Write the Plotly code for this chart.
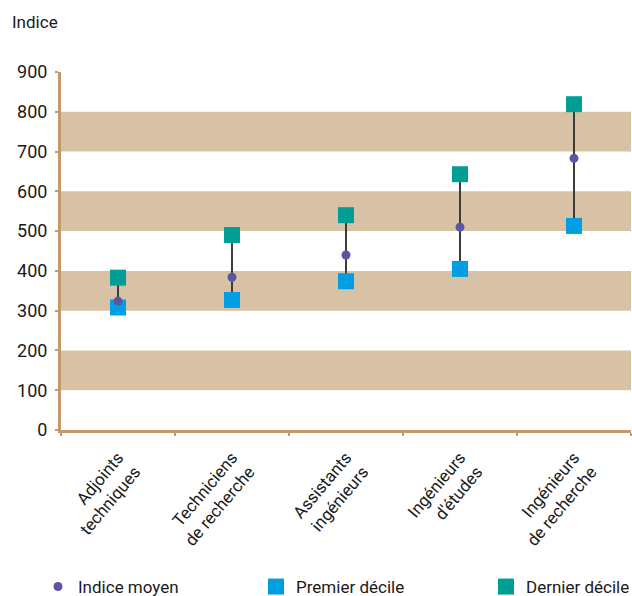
import plotly.graph_objects as go

categories = ["Adjoints<br>techniques", "Techniciens<br>de recherche", "Assistants<br>ingénieurs",
              "Ingénieurs<br>d'études", "Ingénieurs<br>de recherche"]
indice_moyen = [324, 384, 440, 510, 683]
premier_decile = [308, 327, 374, 405, 513]
dernier_decile = [383, 490, 540, 643, 819]
bands = [(100, 200), (300, 400), (500, 600), (700, 800)]

FONT = "Roboto, sans-serif"
AXIS = "#C49A6C"
BAND = "#D8C2A5"

lx, ly = [], []
for c, p, d in zip(categories, premier_decile, dernier_decile):
    lx += [c, c, None]
    ly += [p, d, None]

fig = go.Figure()
fig.add_trace(go.Scatter(x=lx, y=ly, mode="lines", line=dict(color="#3C3C3C", width=2),
                         showlegend=False, hoverinfo="skip"))
fig.add_trace(go.Scatter(x=categories, y=premier_decile, mode="markers", name="Premier décile",
                         legend="legend2",
                         marker=dict(symbol="square", size=16, color="#009FE3")))
fig.add_trace(go.Scatter(x=categories, y=dernier_decile, mode="markers", name="Dernier décile",
                         legend="legend3",
                         marker=dict(symbol="square", size=16, color="#009E96")))
fig.add_trace(go.Scatter(x=categories, y=indice_moyen, mode="markers", name="Indice moyen",
                         legend="legend",
                         marker=dict(symbol="circle", size=9, color="#5B55A5")))

for y0, y1 in bands:
    fig.add_shape(type="rect", xref="paper", yref="y", x0=0, x1=1, y0=y0, y1=y1,
                  fillcolor=BAND, line=dict(width=0), layer="below")

leg = dict(orientation="h", xref="container", yref="container", y=9/596,
           xanchor="left", yanchor="middle", font=dict(size=17), bgcolor="rgba(0,0,0,0)")
fig.update_layout(
    width=632, height=596,
    margin=dict(l=61, r=1, t=72, b=166),
    paper_bgcolor="white", plot_bgcolor="white",
    font=dict(family=FONT, size=17, color="#1a1a1a"),
    showlegend=True,
    legend=dict(leg, x=38/632),
    legend2=dict(leg, x=256/632),
    legend3=dict(leg, x=486/632),
    annotations=[dict(text="Indice", xref="paper", yref="paper", x=-0.0895, y=1.14,
                      xanchor="left", yanchor="middle", showarrow=False, font=dict(size=17))],
)
fig.update_xaxes(type="category", categoryorder="array", categoryarray=categories,
                 tickson="boundaries", ticks="outside", ticklen=3, tickwidth=2, tickcolor=AXIS,
                 showline=True, linecolor=AXIS, linewidth=3, showgrid=False, zeroline=False,
                 tickangle=-50, tickfont=dict(size=17), ticklabelstandoff=8,
                 range=[-0.5, 4.5], automargin=False)
fig.update_yaxes(range=[0, 900], dtick=100, ticks="outside", ticklen=3, tickwidth=2, tickcolor=AXIS,
                 showline=True, linecolor=AXIS, linewidth=3, showgrid=False, zeroline=False,
                 tickfont=dict(size=18), ticklabelstandoff=4, automargin=False)

fig.write_html("out.html", config={"displayModeBar": False},
               post_script="document.body.style.margin='0';document.body.style.overflow='hidden';")
